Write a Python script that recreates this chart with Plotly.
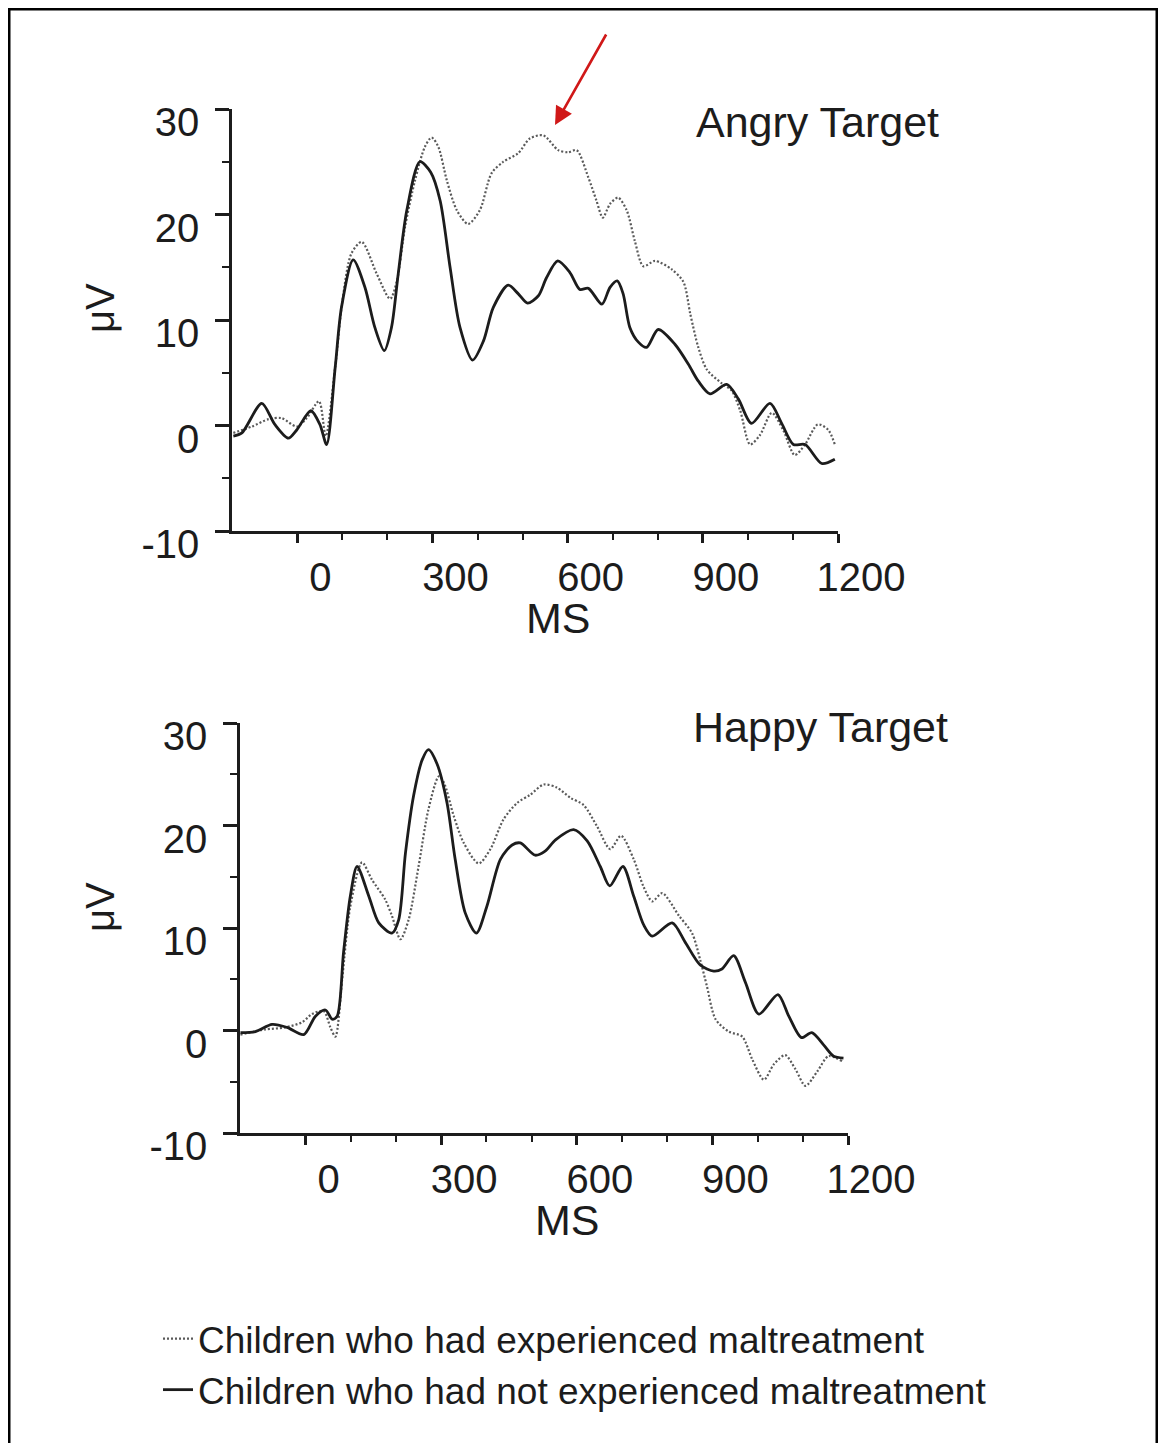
import plotly.graph_objects as go

# ---------------- data (ms, µV) ----------------
angry_mal_ms = [-142, -101, -64, -35, -1, 21, 48, 63, 84, 100, 120, 143, 176, 206, 221,
                239, 261, 283, 298, 313, 332, 354, 379, 405, 431, 457, 490, 516, 546, 579,
                601, 620, 646, 664, 678, 694, 712, 731, 749, 768, 794, 831, 857, 872, 890,
                909, 942, 964, 983, 1005, 1027, 1053, 1079, 1104, 1127, 1155, 1178, 1193]
angry_mal_uv = [-0.7, -0.1, 0.6, 0.7, -0.1, 0.7, 2.3, -1.0, 5.5, 11.8, 16.3, 17.4, 14.4, 12.0, 13.7,
                18.8, 23.2, 26.4, 27.3, 26.4, 23.2, 20.4, 19.1, 20.4, 23.9, 25.0, 25.8, 27.2, 27.5, 26.1,
                25.9, 26.1, 23.5, 21.3, 19.7, 21.0, 21.6, 20.4, 17.5, 15.1, 15.6, 14.8, 13.6, 10.6, 7.4,
                5.3, 4.0, 3.3, 1.4, -1.8, -0.9, 1.2, -0.5, -2.8, -1.8, 0.1, -0.4, -1.8]

angry_ctl_ms = [-142, -123, -79, -50, -20, -1, 30, 50, 65, 84, 98, 124, 150, 172, 193,
                209, 224, 243, 272, 296, 317, 339, 361, 389, 413, 435, 468, 490, 511, 535,
                553, 578, 605, 627, 646, 676, 694, 710, 723, 738, 757, 775, 801, 838, 868,
                890, 916, 953, 979, 1008, 1049, 1075, 1101, 1127, 1164, 1193]
angry_ctl_uv = [-1.0, -0.7, 2.1, 0.1, -1.2, -0.4, 1.4, 0.1, -1.8, 5.5, 11.2, 15.7, 13.1, 9.3, 7.1,
                9.3, 14.4, 20.4, 25.0, 24.0, 21.3, 15.0, 9.3, 6.2, 8.0, 11.2, 13.3, 12.5, 11.6, 12.3,
                14.0, 15.6, 14.5, 12.9, 13.0, 11.5, 13.1, 13.7, 12.5, 9.3, 7.9, 7.4, 9.1, 7.7, 5.8,
                4.2, 3.0, 3.9, 2.5, 0.2, 2.1, 0.2, -1.8, -1.8, -3.6, -3.2]

happy_mal_ms = [-144, -89, -45, -8, 14, 40, 55, 66, 81, 99, 125, 147, 176, 191, 210,
                228, 250, 272, 295, 306, 328, 350, 383, 409, 438, 468, 497, 527, 556, 586,
                615, 645, 674, 698, 726, 748, 767, 789, 826, 855, 873, 888, 907, 936, 966,
                988, 1014, 1036, 1061, 1084, 1106, 1132, 1157, 1187]
happy_mal_uv = [-0.4, 0.1, 0.3, 0.8, 1.6, 1.9, 0.3, -0.6, 5.0, 12.1, 16.4, 14.7, 12.8, 11.2, 8.9,
                10.8, 16.0, 21.6, 24.8, 24.2, 20.9, 18.3, 16.3, 17.7, 20.6, 22.2, 23.0, 24.0, 23.7, 22.7,
                22.0, 19.9, 17.7, 19.0, 16.7, 14.0, 12.6, 13.4, 11.2, 9.5, 6.9, 4.3, 1.1, -0.1, -0.6,
                -2.8, -4.8, -3.3, -2.4, -3.8, -5.4, -4.0, -2.5, -3.0]

happy_ctl_ms = [-144, -111, -74, -41, -4, 22, 44, 59, 70, 84, 99, 114, 140, 162, 191,
                206, 221, 239, 258, 272, 291, 313, 331, 353, 378, 401, 431, 457, 475, 508,
                530, 553, 593, 623, 652, 673, 702, 726, 748, 767, 811, 840, 873, 903, 921,
                947, 973, 1003, 1045, 1069, 1097, 1120, 1146, 1168, 1190]
happy_ctl_uv = [-0.2, -0.1, 0.6, 0.3, -0.4, 1.4, 2.0, 1.1, 1.4, 7.6, 13.1, 16.0, 13.1, 10.5, 9.5,
                10.8, 17.3, 22.9, 26.4, 27.4, 26.0, 22.2, 16.7, 11.5, 9.5, 12.1, 16.7, 18.1, 18.3, 17.1,
                17.5, 18.6, 19.6, 18.5, 16.0, 14.1, 16.0, 13.1, 10.3, 9.2, 10.5, 8.6, 6.4, 5.8, 6.0,
                7.3, 4.7, 1.6, 3.5, 1.4, -0.7, -0.2, -1.4, -2.5, -2.7]

x_ticks = [0, 300, 600, 900, 1200]
x_minor = [100, 200, 400, 500, 700, 800, 1000, 1100]
y_ticks = [-10, 0, 10, 20, 30]
y_minor = [-5, 5, 15, 25]
x_range = [-145, 1200]
y_range = [-10, 30]

panel_titles = ["Angry Target", "Happy Target"]
name_mal = "Children who had experienced maltreatment"
name_ctl = "Children who had not experienced maltreatment"

# ---------------- figure ----------------
W, H = 1166, 1443
OFF = 8  # page body margin of the html page
FONT = "Liberation Sans, Arial, Helvetica, sans-serif"
INK = "#1c1c1c"
GREY = "#5a5a5a"

def px_x(p):
    return (p - OFF) / W

def px_y(p):
    return 1 - (p - OFF) / H

fig = go.Figure()

dot_style = dict(color=GREY, width=2.2, dash="2px,2px", shape="spline", smoothing=0.8)
sol_style = dict(color=INK, width=2.8, shape="spline", smoothing=0.8)

fig.add_trace(go.Scatter(x=angry_mal_ms, y=angry_mal_uv, mode="lines", name=name_mal,
                         line=dot_style, xaxis="x", yaxis="y", showlegend=True))
fig.add_trace(go.Scatter(x=angry_ctl_ms, y=angry_ctl_uv, mode="lines", name=name_ctl,
                         line=sol_style, xaxis="x", yaxis="y", showlegend=True))
fig.add_trace(go.Scatter(x=happy_mal_ms, y=happy_mal_uv, mode="lines", name=name_mal,
                         line=dot_style, xaxis="x2", yaxis="y2", showlegend=False))
fig.add_trace(go.Scatter(x=happy_ctl_ms, y=happy_ctl_uv, mode="lines", name=name_ctl,
                         line=sol_style, xaxis="x2", yaxis="y2", showlegend=False))

tick_font = dict(family=FONT, size=40, color=INK)

def xaxis_cfg(domain, anchor):
    return dict(domain=domain, anchor=anchor, range=x_range, showgrid=False, zeroline=False,
                automargin=False,
                showline=True, linecolor=INK, linewidth=2.5,
                tickmode="array", tickvals=x_ticks, ticktext=[str(v) for v in x_ticks],
                ticks="outside", ticklen=9, tickwidth=2.5, tickcolor=INK,
                minor=dict(tickmode="array", tickvals=x_minor, ticks="outside", ticklen=6,
                           tickwidth=2, tickcolor=INK),
                tickfont=tick_font, ticklabelshift=23, ticklabelstandoff=0, fixedrange=True)

def yaxis_cfg(domain, anchor):
    return dict(domain=domain, anchor=anchor, range=y_range, showgrid=False, zeroline=False,
                automargin=False,
                showline=True, linecolor=INK, linewidth=2.5,
                tickmode="array", tickvals=y_ticks, ticktext=[str(v) for v in y_ticks],
                ticks="outside", ticklen=14, tickwidth=2.5, tickcolor=INK,
                minor=dict(tickmode="array", tickvals=y_minor, ticks="outside", ticklen=7,
                           tickwidth=2, tickcolor=INK),
                tickfont=tick_font, ticklabelshift=13, ticklabelstandoff=8, fixedrange=True)

fig.update_layout(
    template="none",
    width=W, height=H,
    margin=dict(l=0, r=0, t=0, b=0, autoexpand=False),
    paper_bgcolor="white", plot_bgcolor="white",
    font=dict(family=FONT, color=INK),
    xaxis=xaxis_cfg([px_x(232), px_x(838)], "y"),
    yaxis=yaxis_cfg([px_y(531), px_y(109)], "x"),
    xaxis2=xaxis_cfg([px_x(240), px_x(848)], "y2"),
    yaxis2=yaxis_cfg([px_y(1133), px_y(723)], "x2"),
    showlegend=True,
    legend=dict(x=px_x(158), y=px_y(1308), xanchor="left", yanchor="top",
                font=dict(family=FONT, size=37, color=INK), bgcolor="rgba(0,0,0,0)",
                traceorder="normal", itemwidth=30, tracegroupgap=0),
)

ann_font_big = dict(family=FONT, size=43, color=INK)
annotations = [
    dict(text=panel_titles[0], x=px_x(694), y=px_y(122), xref="paper", yref="paper",
         xanchor="left", yanchor="middle", showarrow=False, font=ann_font_big),
    dict(text=panel_titles[1], x=px_x(691), y=px_y(727), xref="paper", yref="paper",
         xanchor="left", yanchor="middle", showarrow=False, font=ann_font_big),
    dict(text="MS", x=px_x(558), y=px_y(618), xref="paper", yref="paper",
         xanchor="center", yanchor="middle", showarrow=False, font=ann_font_big),
    dict(text="MS", x=px_x(567), y=px_y(1220), xref="paper", yref="paper",
         xanchor="center", yanchor="middle", showarrow=False, font=ann_font_big),
    dict(text="μV", x=px_x(100), y=px_y(308), xref="paper", yref="paper", textangle=-90,
         xanchor="center", yanchor="middle", showarrow=False,
         font=dict(family=FONT, size=40, color=INK)),
    dict(text="μV", x=px_x(100), y=px_y(907), xref="paper", yref="paper", textangle=-90,
         xanchor="center", yanchor="middle", showarrow=False,
         font=dict(family=FONT, size=40, color=INK)),
    # red arrow pointing at the maltreatment-group peak
    dict(text="", x=px_x(555), y=px_y(125), xref="paper", yref="paper",
         showarrow=True, ax=52, ay=-92, arrowcolor="#d01818", arrowwidth=2.6,
         arrowhead=2, arrowsize=1.4, standoff=0),
]
fig.update_layout(annotations=annotations)

# outer frame around the whole figure
fig.add_shape(type="rect", xref="paper", yref="paper",
              x0=px_x(9), x1=px_x(1157), y0=-0.05, y1=px_y(9),
              line=dict(color="black", width=3), fillcolor="rgba(0,0,0,0)", layer="above")

fig.write_html("out.html")
